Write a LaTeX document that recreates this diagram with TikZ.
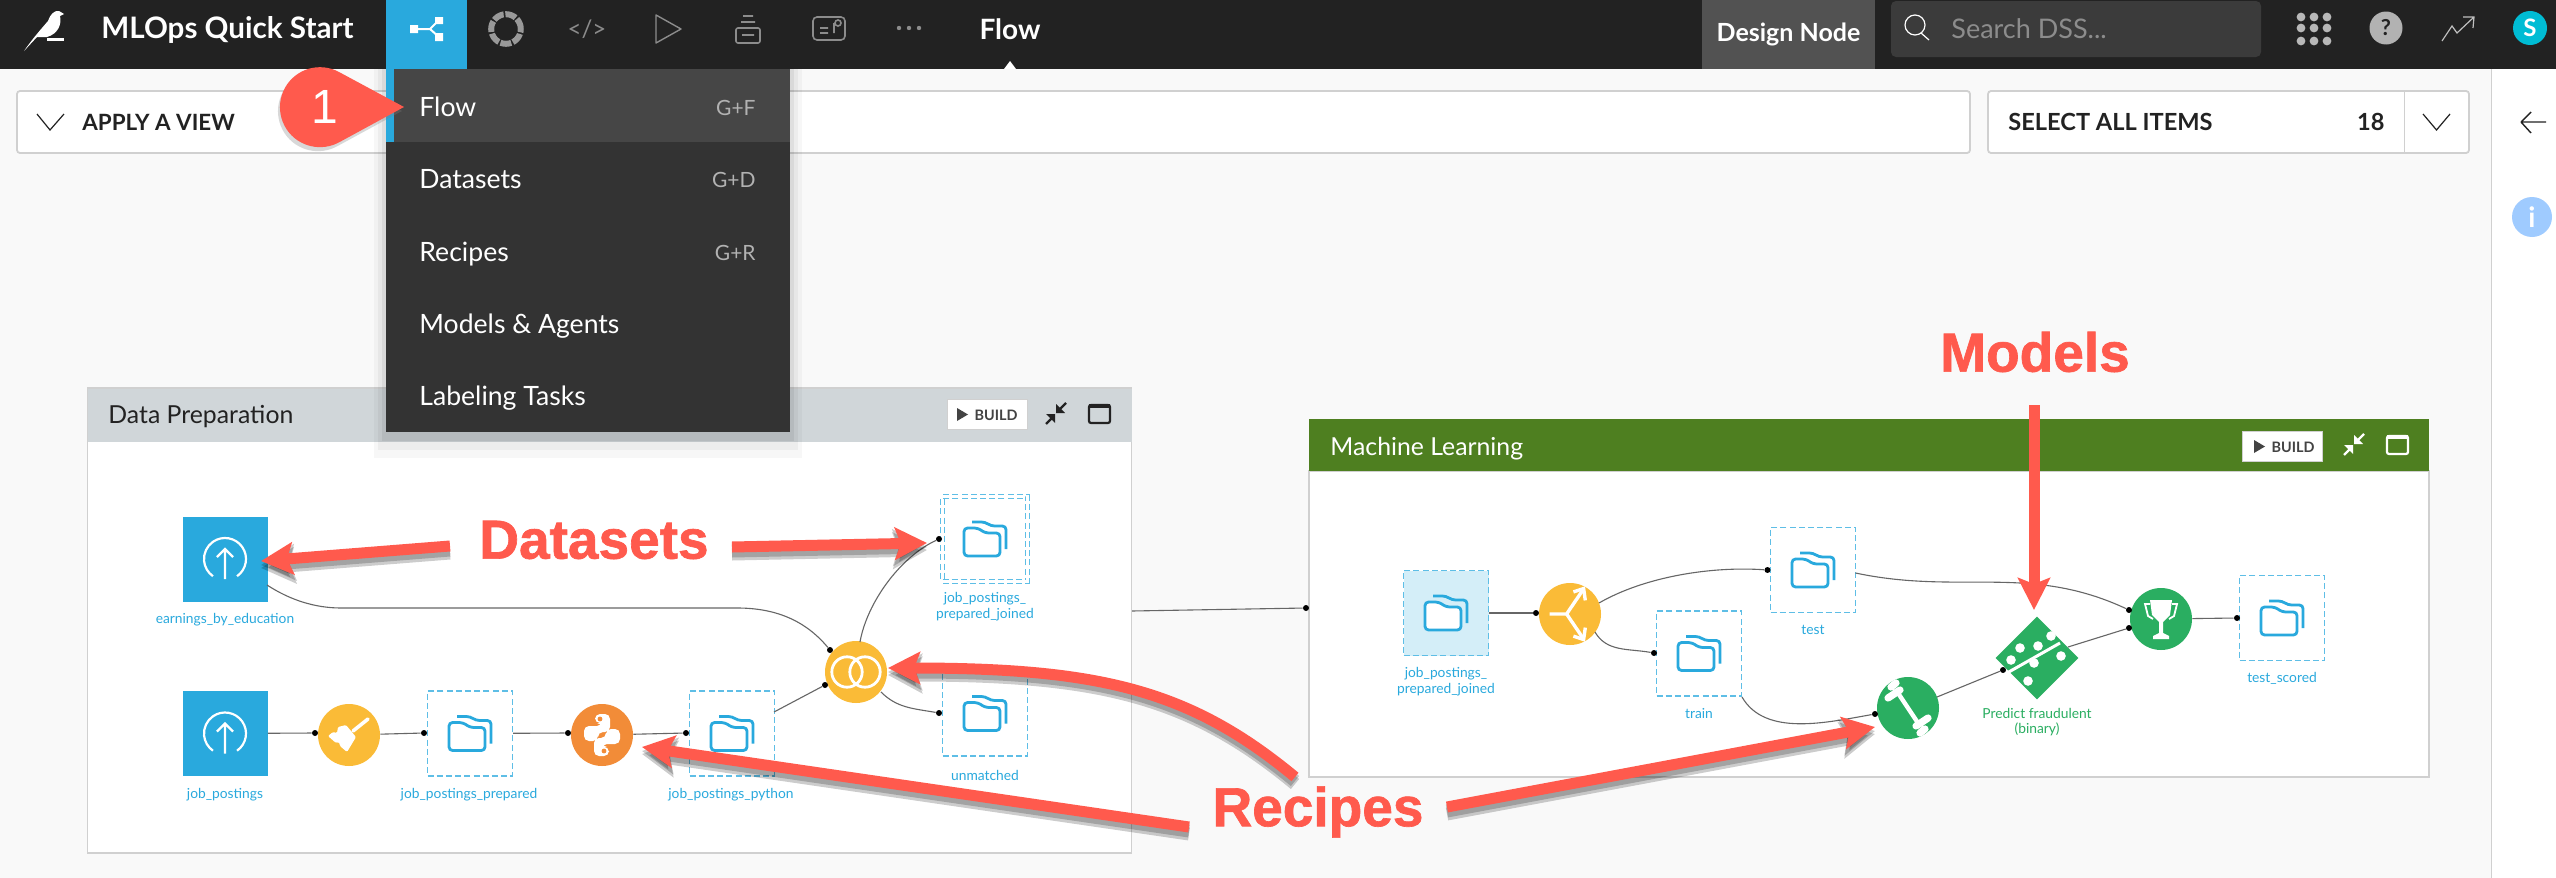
\documentclass[tikz,border=0pt]{standalone}
\usepackage{fontspec}
\setmainfont{Lato}
\newfontfamily\arialfont[BoldFeatures={FakeBold=1.2}]{Liberation Sans}
\usetikzlibrary{arrows.meta,shapes.geometric,shadows}
\definecolor{barbg}{HTML}{222222}
\definecolor{pagebg}{HTML}{F9F9F9}
\definecolor{dssblue}{HTML}{29A9DD}
\definecolor{menubg}{HTML}{333333}
\definecolor{menuhi}{HTML}{464646}
\definecolor{callred}{HTML}{FF5A4D}
\definecolor{edgegray}{HTML}{D0D0D0}
\definecolor{prepgray}{HTML}{D0D6D9}
\definecolor{mlgreen}{HTML}{4E7F20}
\definecolor{recipeyellow}{HTML}{FABB37}
\definecolor{recipeorange}{HTML}{F28C38}
\definecolor{modelgreen}{HTML}{2AAE61}
\definecolor{infoblue}{HTML}{9FCBFF}
\definecolor{avatarcyan}{HTML}{00BCD4}
\newcommand{\pxfont}[1]{\fontsize{#1}{#1}\selectfont}
\tikzset{
navtext/.style={text=white,inner sep=0,font=\pxfont{14}\bfseries},
menutext/.style={text=white,inner sep=0,anchor=base west,font=\pxfont{13.3}},
keytext/.style={text=white!70!black,inner sep=0,anchor=base east,font=\pxfont{10.5}},
bartext/.style={text=barbg,inner sep=0,font=\pxfont{11.8}\bfseries},
bigtext/.style={text=callred,inner sep=0,font=\arialfont\pxfont{27.5}\bfseries},
captext/.style={text=dssblue,inner sep=0,align=center,font=\pxfont{6.9}},
imported/.style={fill=dssblue,minimum width=42.5pt,minimum height=42.5pt,inner sep=0},
dsbox/.style={draw=dssblue!75,dashed,line width=0.6pt,dash pattern=on 3pt off 1.6pt,fill=white,minimum width=42.5pt,minimum height=42.5pt,inner sep=0},
recipe/.style={circle,fill=#1,minimum size=31pt,inner sep=0},
port/.style={circle,fill=black,minimum size=3pt,inner sep=0},
flowedge/.style={draw=black!60,line width=0.55pt},
redarrow/.style={draw=callred,line width=5.5pt,-{Stealth[length=16pt,width=16pt,inset=3pt]}},
arrowshade/.style={draw=black,opacity=0.2,line width=6.5pt,-{Stealth[length=17pt,width=18pt,inset=3pt]}},
buildbtn/.style={fill=white,draw=edgegray,line width=0.5pt,minimum width=40pt,minimum height=15pt,inner sep=0},
buildtext/.style={text=barbg!85!white,inner sep=0,font=\pxfont{7.2}\bfseries},
folderpic/.pic={
\draw[dssblue,line width=1.4pt,rounded corners=1.8pt,fill=white] (-21,-11) -- (-7,-11) -- (0,-6) -- (15,-6) -- (15,17) -- (-21,17) -- cycle;
\draw[dssblue,line width=1.4pt,rounded corners=1.8pt] (-13,-17) -- (0,-17) -- (6,-13) -- (21,-13) -- (21,10);
},
uploadpic/.pic={
\draw[white,line width=1.1pt] ([shift={(-55:10.5pt)}]0,0) arc[start angle=-55,end angle=235,radius=10.5pt];
\draw[white,line width=1.1pt] (0,20) -- (0,-10) (-8,-2) -- (0,-10) -- (8,-2);
},
brushpic/.pic={
\draw[white,line width=1.8pt,line cap=round] (19,-16) -- (4,-4);
\fill[white,rounded corners=0.6pt] (-11,-8) -- (-3,-10) -- (7,2) -- (-2,17) -- (-9,11) -- (-10,7) -- (-13,8) -- (-21,1) -- (-16,-3) -- (-12,-2) -- cycle;
},
pythonpic/.pic={
\fill[white,rounded corners=2.5pt] (-7,-21) -- (8,-21) -- (8,-3) -- (-4,-3) -- (-4,6) -- (-18,6) -- (-18,-9) -- (0,-9) -- (0,-12) -- (-7,-12) -- cycle;
\fill[white,rounded corners=2.5pt] (7,21) -- (-8,21) -- (-8,3) -- (4,3) -- (4,-6) -- (18,-6) -- (18,9) -- (0,9) -- (0,12) -- (7,12) -- cycle;
\fill[recipeorange] (-2,-16) circle[radius=1.2pt] (2,16) circle[radius=1.2pt];
},
joinpic/.pic={
\draw[white,line width=1.4pt] (-9,0) circle[radius=7.6pt] (9,0) circle[radius=7.6pt];
},
splitpic/.pic={
\draw[white,line width=1.7pt] (-24,0) -- (-4,0) -- (15,-28) (-4,0) -- (15,28);
\draw[white,line width=1.7pt] (4,-26) -- (16,-30) -- (18,-16) (4,26) -- (16,30) -- (18,16);
},
dumbbellpic/.pic={
\draw[white,line width=2.2pt] (-10,-15) -- (10,15);
\draw[white,line width=3.6pt,line cap=round] (-20,-10) -- (-8,-18) (-17,-21) -- (-12,-25) (20,10) -- (8,18) (17,21) -- (12,25);
},
trophypic/.pic={
\fill[white] (-11,-19) -- (11,-19) -- (9,-4) -- (2,3) -- (2,14) -- (8,17) -- (8,20) -- (-8,20) -- (-8,17) -- (-2,14) -- (-2,3) -- (-9,-4) -- cycle;
\draw[white,line width=0.9pt] (-11,-15) -- (-16,-15) -- (-13,-3) -- (-8,0) (11,-15) -- (16,-15) -- (13,-3) -- (8,0);
},
modelpic/.pic={
\draw[white,line width=1.5pt] (-30,15) -- (23,-15);
\fill[white] (-17,-10) circle[radius=2.4pt] (1,-12) circle[radius=2.4pt] (14,-22) circle[radius=2.4pt] (-26,2) circle[radius=2.4pt] (24,-2) circle[radius=2.4pt] (-3,5) circle[radius=2.4pt] (-9,23) circle[radius=2.4pt];
},
zoneicons/.pic={
\draw[pic actions,line width=1.2pt] (10,-12) -- (2,-4) (-10,9) -- (-3,2);
\fill[pic actions] (0,-2) -- (0,-11) -- (9,-2) -- cycle (-1,-1) -- (-1,8) -- (-10,-1) -- cycle;
\draw[pic actions,line width=1.1pt,rounded corners=1pt] (33,-10) rectangle (54,8);
\draw[pic actions,line width=2pt] (33,-9) -- (54,-9);
}
}
\begin{document}
\begin{tikzpicture}[x=0.5pt,y=-0.5pt]
\useasboundingbox (0,0) rectangle (2556,878);
\fill[pagebg] (0,0) rectangle (2556,878);
\fill[white] (2491,69) rectangle (2556,878);
\draw[edgegray,line width=0.5pt] (2491,69) -- (2491,878);
\node[fill=white,draw=edgegray,rounded corners=1.5pt,line width=0.9pt,minimum width=976.5pt,minimum height=31pt,inner sep=0] (viewbar) at (993.5,122) {};
\node[fill=white,draw=edgegray,rounded corners=1.5pt,line width=0.9pt,minimum width=240.5pt,minimum height=31pt,inner sep=0] (selectbar) at (2228.5,122) {};
\draw[edgegray,line width=0.5pt] (2404,91) -- (2404,152);
\draw[barbg,line width=0.6pt] (37,114) -- (50,130) -- (64,114) (2423,114) -- (2436.5,130) -- (2450,114);
\node[bartext,font=\pxfont{11.2}\bfseries,anchor=west] (applyview) at (82,122) {APPLY A VIEW};
\node[bartext,anchor=west] (selectall) at (2008,122) {SELECT ALL ITEMS};
\node[bartext,anchor=east] (itemcount) at (2385,122) {18};
% right side panel
\draw[barbg,line width=0.7pt] (2546,122) -- (2521,122) (2531,112) -- (2521,122) (2531,133) -- (2521,122);
\node[circle,fill=infoblue,minimum size=20pt,inner sep=0,text=white,font=\pxfont{14}\bfseries] (infodot) at (2532,217) {i};
% top bar
\fill[barbg] (0,0) rectangle (2556,69);
\fill[dssblue] (386,0) rectangle (467,69);
\fill[white] (1004,69) -- (1010,61) -- (1016,69) -- cycle;
\fill[white] (24,51) .. controls (33,38) and (42,28) .. (48,21) .. controls (50,15) and (54,10) .. (59,11) -- (64,14) -- (60,16) .. controls (62,24) and (58,34) .. (47,37) -- (37,37) -- cycle;
\fill[white] (47,38) rectangle (64,40.5);
\node[navtext,font=\pxfont{14.8}\bfseries,anchor=west] (projname) at (101,30) {MLOps Quick Start};
\node[navtext] (flowtitle) at (1010,29) {Flow};
% nav icons
\draw[white,line width=1pt] (414,29) -- (430,29) -- (439,20) (430,29) -- (439,37);
\fill[white] (410,25) rectangle (418,33) (435,17) rectangle (443,24) (435,33) rectangle (443,41);
\draw[white!60!black,line width=3pt,dash pattern=on 5.5pt off 0.9pt] (506,29) circle[radius=7.4pt];
\node[text=white!55!black,inner sep=0,font=\pxfont{12}] (codeicon) at (587,29) {</>};
\draw[white!55!black,line width=0.7pt,line join=round] (656,15) -- (681,29) -- (656,43) -- cycle;
\draw[white!55!black,line width=0.8pt,rounded corners=1pt] (736,28) rectangle (760,43) (741,22) -- (755,22) (743,16) -- (753,16) (742,35) -- (754,35);
\draw[white!55!black,line width=0.8pt,rounded corners=2pt] (813,17) rectangle (845,40);
\draw[white!55!black,line width=0.8pt] (820,33) -- (828,33) (820,28) -- (828,28) (834,23) -- (834,33) (838,23) circle[radius=1.5pt];
\fill[white!55!black] (899,28) circle[radius=1.1pt] (909,28) circle[radius=1.1pt] (919,28) circle[radius=1.1pt];
\node[fill=white!32!black,minimum width=86.5pt,minimum height=34.5pt,inner sep=0,text=white,font=\pxfont{12.5}\bfseries] (nodetab) at (1788.5,34.5) {Design Node};
\node[fill=white!23!black,rounded corners=2.5pt,minimum width=185pt,minimum height=28pt,inner sep=0] (searchbox) at (2076,29) {};
\draw[white,line width=0.6pt] (1915,25) circle[radius=5pt] (1921,33) -- (1929,40);
\node[text=white!55!black,inner sep=0,anchor=west,font=\pxfont{13.5}] (searchtext) at (1951,29) {Search DSS...};
\fill[white!72!black] (2301,17) circle[radius=2.2pt] (2314,17) circle[radius=2.2pt] (2327,17) circle[radius=2.2pt] (2301,28) circle[radius=2.2pt] (2314,28) circle[radius=2.2pt] (2327,28) circle[radius=2.2pt] (2301,41) circle[radius=2.2pt] (2314,41) circle[radius=2.2pt] (2327,41) circle[radius=2.2pt];
\node[circle,fill=white!70!black,minimum size=16.5pt,inner sep=0,text=barbg,font=\pxfont{11}\bfseries] (helpdot) at (2386,28) {?};
\draw[white!75!black,line width=0.6pt] (2442,41) -- (2452,26) -- (2457,33) -- (2474,17) (2463,17) -- (2474,17) -- (2473,28);
\node[circle,fill=avatarcyan,minimum size=17pt,inner sep=0,text=white,font=\pxfont{12}\bfseries] (userdot) at (2530,28) {S};
% data preparation zone
\node[fill=white,draw=edgegray,line width=0.7pt,minimum width=522pt,minimum height=232.5pt,inner sep=0] (prepzone) at (609.5,620.5) {};
\node[fill=prepgray,minimum width=522pt,minimum height=26.5pt,inner sep=0] (prephead) at (609.5,415) {};
\node[text=barbg,inner sep=0,anchor=west,font=\pxfont{12.4}] (preptitle) at (108,417) {Data Preparation};
\node[buildbtn] (prepbuild) at (987,414) {};
\fill[barbg!85!white] (957,408) -- (968,414.5) -- (957,421) -- cycle;
\node[buildtext] (prepbuildtext) at (996,415) {BUILD};
\path (1056,415) pic[barbg] {zoneicons};
% machine learning zone
\node[fill=white,draw=edgegray,line width=0.7pt,minimum width=560pt,minimum height=153pt,inner sep=0] (mlzone) at (1869,624) {};
\node[fill=mlgreen,minimum width=560pt,minimum height=26pt,inner sep=0] (mlhead) at (1869,445) {};
\node[text=white,inner sep=0,anchor=west,font=\pxfont{12.4}] (mltitle) at (1330,449) {Machine Learning};
\node[buildbtn] (mlbuild) at (2282,446) {};
\fill[barbg!85!white] (2254,440) -- (2265,446.5) -- (2254,453) -- cycle;
\node[buildtext] (mlbuildtext) at (2293,447) {BUILD};
\path (2354,446) pic[white] {zoneicons};
% flow, left zone
\node[imported] (earnings) at (225,559) {};
\path (earnings) pic {uploadpic};
\node[imported] (postings) at (225,733.5) {};
\path (postings) pic {uploadpic};
\node[recipe=recipeyellow] (brush) at (349,735) {};
\path (brush) pic {brushpic};
\node[dsbox] (prepared) at (470,733.5) {};
\path (prepared) pic {folderpic};
\node[recipe=recipeorange] (python) at (602,735) {};
\path (python) pic {pythonpic};
\node[dsbox] (pythonout) at (732,733.5) {};
\path (pythonout) pic {folderpic};
\node[recipe=recipeyellow] (joinr) at (856,672) {};
\path (joinr) pic {joinpic};
\node[dsbox,double=white,double distance=1.2pt,line width=0.5pt] (joined) at (985,539) {};
\path (joined) pic {folderpic};
\node[dsbox] (unmatched) at (985,713.5) {};
\path (unmatched) pic {folderpic};
\node[captext] (earningscap) at (225,620) {earnings\_by\_education};
\node[captext] (postingscap) at (225,795) {job\_postings};
\node[captext] (preparedcap) at (469,795) {job\_postings\_prepared};
\node[captext] (pythoncap) at (731,795) {job\_postings\_python};
\node[captext] (joinedcap) at (985,606.5) {job\_postings\_\\[1pt]prepared\_joined};
\node[captext] (unmatchedcap) at (985,775) {unmatched};
\node[port] (pbrush) at (315,733) {};
\node[port] (pprepared) at (424,733) {};
\node[port] (ppython) at (568,733) {};
\node[port] (ppyout) at (686,733) {};
\node[port] (pjoina) at (830,650) {};
\node[port] (pjoinb) at (825,685) {};
\node[port] (pjoined) at (939,539) {};
\node[port] (punmatched) at (939,713) {};
\coordinate (earningsout) at (267,585);
\coordinate (pythonbox) at (774,712);
\coordinate (joinup) at (860,642);
\coordinate (joindown) at (881,692);
\coordinate (prepout) at (1132,611);
\path[flowedge]
(postings) edge (pbrush)
(brush) edge (pprepared)
(prepared) edge (ppython)
(python) edge (ppyout)
(pythonbox) edge (pjoinb)
(joinup) edge[out=80,in=205,looseness=0.8] (pjoined)
(joindown) edge[out=-45,in=170] (punmatched);
\draw[flowedge] (earningsout) .. controls (290,600) and (315,608) .. (341,608) -- (737,608) .. controls (775,608) and (805,620) .. (pjoina);
% flow, right zone
\node[dsbox,fill=dssblue!20] (mlinput) at (1446,613) {};
\path (mlinput) pic {folderpic};
\node[recipe=recipeyellow] (split) at (1570,614) {};
\path (split) pic[scale=0.85] {splitpic};
\node[dsbox] (testset) at (1813,570) {};
\path (testset) pic {folderpic};
\node[dsbox] (trainset) at (1699,653.5) {};
\path (trainset) pic {folderpic};
\node[recipe=modelgreen] (trainr) at (1908,708) {};
\path (trainr) pic {dumbbellpic};
\node[diamond,fill=modelgreen,minimum size=41.5pt,inner sep=0] (model) at (2037,658) {};
\path (model) pic {modelpic};
\node[recipe=modelgreen] (scorer) at (2161,619) {};
\path (scorer) pic {trophypic};
\node[dsbox] (scored) at (2282,618) {};
\path (scored) pic {folderpic};
\node[captext] (mlinputcap) at (1446,681.5) {job\_postings\_\\[1pt]prepared\_joined};
\node[captext] (testcap) at (1813,630) {test};
\node[captext] (traincap) at (1699,714) {train};
\node[captext] (scoredcap) at (2282,678) {test\_scored};
\node[captext,text=modelgreen] (modelcap) at (2037,722) {Predict fraudulent\\[1pt](binary)};
\node[port] (pzone) at (1306,608) {};
\node[port] (psplit) at (1536,613) {};
\node[port] (ptest) at (1767.5,570) {};
\node[port] (ptrain) at (1654,653) {};
\node[port] (ptrainr) at (1875,714) {};
\node[port] (pmodel) at (2003,670) {};
\node[port] (pscorea) at (2129,610) {};
\node[port] (pscoreb) at (2129,628) {};
\node[port] (pscored) at (2237,618) {};
\coordinate (splitup) at (1599,603);
\coordinate (splitdown) at (1595,632);
\coordinate (trainout) at (1742,697);
\coordinate (testout) at (1855.5,573);
\coordinate (trainrout) at (1937,697);
\coordinate (modelout) at (2068,647);
\path[flowedge]
(prepout) edge (pzone)
(mlinput) edge (psplit)
(splitup) edge[out=30,in=176,looseness=0.8] (ptest)
(splitdown) edge[out=-60,in=170] (ptrain)
(trainrout) edge (pmodel)
(modelout) edge (pscoreb)
(testout) edge[out=-12,in=155] (pscorea)
(scorer) edge (pscored)
(trainout) edge[out=-60,in=190,looseness=0.9] (ptrainr);
% red labels
\node[bigtext] (datasets) at (594,540) {Datasets};
\node[bigtext] (models) at (2035,352) {Models};
\node[bigtext] (recipes) at (1318,812) {Recipes};
\coordinate (dsleft) at (450,546);
\coordinate (dsright) at (732,547);
\coordinate (dslefttip) at (261,561);
\coordinate (dsrighttip) at (927,543);
\coordinate (modelstail) at (2034,405);
\coordinate (modelstip) at (2034,610);
\coordinate (rjointail) at (1295,777);
\coordinate (rjointip) at (888,668);
\coordinate (rpytail) at (1189,827);
\coordinate (rpytip) at (642,747);
\coordinate (rtraintail) at (1447,807);
\coordinate (rtraintip) at (1875,727);
\begin{scope}[transform canvas={yshift=-2pt}]
\path
(dsleft) edge[arrowshade] (dslefttip)
(dsright) edge[arrowshade] (dsrighttip)
(rpytail) edge[arrowshade] (rpytip)
(rtraintail) edge[arrowshade] (rtraintip);
\draw[arrowshade] (rjointail) .. controls (1190,690) and (1100,668) .. (rjointip);
\end{scope}
\begin{scope}[transform canvas={yshift=-3.5pt}]
\path
(dsleft) edge[arrowshade] (dslefttip)
(dsright) edge[arrowshade] (dsrighttip)
(rpytail) edge[arrowshade] (rpytip)
(rtraintail) edge[arrowshade] (rtraintip);
\draw[arrowshade] (rjointail) .. controls (1190,690) and (1100,668) .. (rjointip);
\end{scope}
\path
(dsleft) edge[redarrow] (dslefttip)
(dsright) edge[redarrow] (dsrighttip)
(modelstail) edge[redarrow] (modelstip)
(rpytail) edge[redarrow] (rpytip)
(rtraintail) edge[redarrow] (rtraintip);
\draw[redarrow] (rjointail) .. controls (1190,690) and (1100,668) .. (rjointip);
% dropdown
\fill[black,opacity=0.03] (374,69) rectangle (802,458);
\fill[black,opacity=0.04] (378,69) rectangle (798,450);
\fill[black,opacity=0.06] (382,69) rectangle (794,441);
\node[fill=menubg,minimum width=202pt,minimum height=181.5pt,inner sep=0] (menubox) at (588,250.5) {};
\fill[menuhi] (386,69) rectangle (790,142);
\fill[dssblue] (386,69) rectangle (394,142);
\node[menutext] (mflow) at (419,116) {Flow};
\node[menutext] (mdatasets) at (419,188) {Datasets};
\node[menutext] (mrecipes) at (419,261) {Recipes};
\node[menutext] (mmodels) at (419,333) {Models \& Agents};
\node[menutext] (mlabels) at (419,405) {Labeling Tasks};
\node[keytext] (kflow) at (756,115) {G+F};
\node[keytext] (kdatasets) at (756,187) {G+D};
\node[keytext] (krecipes) at (756,260) {G+R};
% numbered pin
\fill[callred,drop shadow={shadow xshift=-1pt,shadow yshift=-2pt,opacity=0.3}] (404,107) -- (339,72) arc[start angle=61.6,end angle=298.4,radius=20pt] -- cycle;
\node[text=white,inner sep=0,font=\arialfont\pxfont{24}] (pinlabel) at (325,107) {1};
\end{tikzpicture}
\end{document}
